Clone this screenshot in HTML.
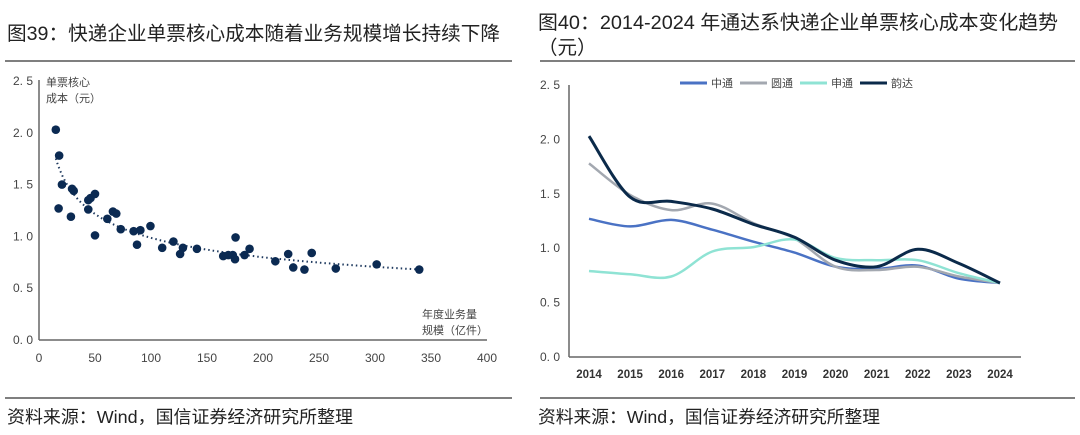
<!DOCTYPE html>
<html><head><meta charset="utf-8">
<style>
html,body{margin:0;padding:0;background:#fff;width:1080px;height:435px;overflow:hidden}
svg{display:block}
text{font-family:"Liberation Sans","Noto Sans CJK SC",sans-serif}
</style></head>
<body>
<svg id="root" width="1080" height="435" viewBox="0 0 1080 435" xmlns="http://www.w3.org/2000/svg">
  <text x="7" y="40" font-size="19.5" fill="#222" textLength="493" lengthAdjust="spacingAndGlyphs">图39：快递企业单票核心成本随着业务规模增长持续下降</text>
  <text x="538" y="29" font-size="19.5" fill="#222" textLength="520" lengthAdjust="spacingAndGlyphs">图40：2014-2024 年通达系快递企业单票核心成本变化趋势</text>
  <text x="538" y="54" font-size="19.5" fill="#222">（元）</text>
  <line x1="5" y1="61" x2="512" y2="61" stroke="#555" stroke-width="1.5"/>
  <line x1="540" y1="61" x2="1075" y2="61" stroke="#555" stroke-width="1.5"/>
  <line x1="5" y1="398" x2="512" y2="398" stroke="#555" stroke-width="1.5"/>
  <line x1="540" y1="398" x2="1075" y2="398" stroke="#555" stroke-width="1.5"/>
  <text x="7" y="423" font-size="17.5" fill="#222" textLength="346" lengthAdjust="spacingAndGlyphs">资料来源：Wind，国信证券经济研究所整理</text>
  <text x="538" y="423" font-size="17.5" fill="#222" textLength="342" lengthAdjust="spacingAndGlyphs">资料来源：Wind，国信证券经济研究所整理</text>
  <g id="left"></g>
  <g id="right"></g>
</svg>
<script>
// ---- scatter data ----
const scatterX = [15,18,20.5,17.5,29.5,31,28.5,44,46,50,44,50,61,66,69,73,84.5,90.5,87.5,99.5,110,120,128.5,126,141,164.5,169,173,175,175.5,183.5,188,211,222.5,227,237,243.5,265,301.5,339.5];
const scatterY = [2.03,1.78,1.50,1.27,1.46,1.44,1.19,1.35,1.37,1.41,1.26,1.01,1.17,1.24,1.22,1.07,1.05,1.06,0.92,1.10,0.89,0.95,0.89,0.83,0.88,0.81,0.82,0.82,0.78,0.99,0.82,0.88,0.76,0.83,0.70,0.68,0.84,0.69,0.73,0.68];
const scatterXTicks = [0,50,100,150,200,250,300,350,400];
const scatterYTicks = ["0.0","0.5","1.0","1.5","2.0","2.5"];
const trendA = 3.98, trendB = -0.303;

// ---- line data ----
const years = ["2014","2015","2016","2017","2018","2019","2020","2021","2022","2023","2024"];
const zto = [1.27,1.20,1.26,1.17,1.06,0.96,0.83,0.81,0.84,0.72,0.68];
const yto = [1.78,1.49,1.35,1.41,1.23,1.09,0.83,0.80,0.83,0.74,0.68];
const sto = [0.79,0.76,0.74,0.97,1.01,1.08,0.91,0.89,0.89,0.77,0.68];
const yunda = [2.03,1.47,1.43,1.36,1.22,1.10,0.89,0.83,0.99,0.86,0.68];
const lineYTicks = ["0.0","0.5","1.0","1.5","2.0","2.5"];
const seriesNames = ["中通","圆通","申通","韵达"];

const NS="http://www.w3.org/2000/svg";
function mk(parent,tag,attrs){const e=document.createElementNS(NS,tag);for(const k in attrs)e.setAttribute(k,attrs[k]);parent.appendChild(e);return e;}

// ---- scatter chart ----
const L=document.getElementById('left');
const sx=v=>39+v*(448/400);
const sy=v=>340-v*(259/2.5);
let e;
e=mk(L,'line',{x1:39,y1:80,x2:39,y2:340,stroke:'#666','stroke-width':1.5});


e=mk(L,'line',{x1:39,y1:340,x2:487,y2:340,stroke:'#666','stroke-width':1.5});


scatterYTicks.forEach(t=>{
  e=mk(L,'text',{x:33,y:sy(parseFloat(t))+4,'font-size':12,fill:'#444','text-anchor':'end'});e.textContent=t.replace('.','. ');
  
  
});
scatterXTicks.forEach(t=>{
  e=mk(L,'text',{x:sx(t),y:362,'font-size':12,fill:'#444','text-anchor':'middle'});e.textContent=t;
  
  
});
e=mk(L,'text',{x:46,y:86,'font-size':11,fill:'#444'});e.textContent='单票核心';


e=mk(L,'text',{x:46,y:102,'font-size':11,fill:'#444'});e.textContent='成本（元）';


e=mk(L,'text',{x:422,y:318,'font-size':11,fill:'#444'});e.textContent='年度业务量';


e=mk(L,'text',{x:422,y:334,'font-size':11,fill:'#444'});e.textContent='规模（亿件）';


let d='';
for(let x=15;x<=340;x+=2){const y=trendA*Math.pow(x,trendB);d+=(d?'L':'M')+sx(x).toFixed(1)+','+sy(y).toFixed(1);}
e=mk(L,'path',{d:d,fill:'none',stroke:'#1f3a5f','stroke-width':2,'stroke-dasharray':'1.5 3'});


scatterX.forEach((x,i)=>{
  e=mk(L,'circle',{cx:sx(x),cy:sy(scatterY[i]),r:4.3,fill:'#0b2a52'});
  
  
});

// ---- line chart ----
const R=document.getElementById('right');
const lx=i=>589+i*(411/(years.length-1));
const ly=v=>357-v*(272/2.5);
e=mk(R,'line',{x1:569,y1:85,x2:569,y2:357,stroke:'#666','stroke-width':1.5});


e=mk(R,'line',{x1:569,y1:357,x2:1021,y2:357,stroke:'#666','stroke-width':1.5});


lineYTicks.forEach(t=>{
  e=mk(R,'text',{x:560,y:ly(parseFloat(t))+4,'font-size':12,fill:'#444','text-anchor':'end'});e.textContent=t.replace('.','. ');
  
  
});
years.forEach((y,i)=>{
  e=mk(R,'text',{x:lx(i),y:378,'font-size':11.5,fill:'#333','text-anchor':'middle','font-weight':'bold'});e.textContent=y;
  
  
});
function smooth(vals){
  const p=vals.map((v,i)=>[lx(i),ly(v)]);
  let s='M'+p[0][0]+','+p[0][1];
  for(let i=0;i<p.length-1;i++){
    const p0=p[i-1]||p[i],p1=p[i],p2=p[i+1],p3=p[i+2]||p2;
    const c1=[p1[0]+(p2[0]-p0[0])/6,p1[1]+(p2[1]-p0[1])/6];
    const c2=[p2[0]-(p3[0]-p1[0])/6,p2[1]-(p3[1]-p1[1])/6];
    s+=' C'+c1[0].toFixed(1)+','+c1[1].toFixed(1)+' '+c2[0].toFixed(1)+','+c2[1].toFixed(1)+' '+p2[0].toFixed(1)+','+p2[1].toFixed(1);
  }
  return s;
}
const seriesData=[zto,yto,sto,yunda];
const colors=['#4a72c4','#a3a8b0','#8fe3d4','#0b2a4a'];
const slugs=['zto','yto','sto','yunda'];
const legX=[680,740,800,860];
seriesData.forEach((vals,k)=>{
  e=mk(R,'path',{d:smooth(vals),fill:'none',stroke:colors[k],'stroke-width':k===3?3:2.5});
  
  
  e=mk(R,'line',{x1:legX[k],y1:83,x2:legX[k]+27,y2:83,stroke:colors[k],'stroke-width':3});
  
  
  e=mk(R,'text',{x:legX[k]+31,y:87,'font-size':11,fill:'#444'});e.textContent=seriesNames[k];
  
  
});
</script>
</body></html>
